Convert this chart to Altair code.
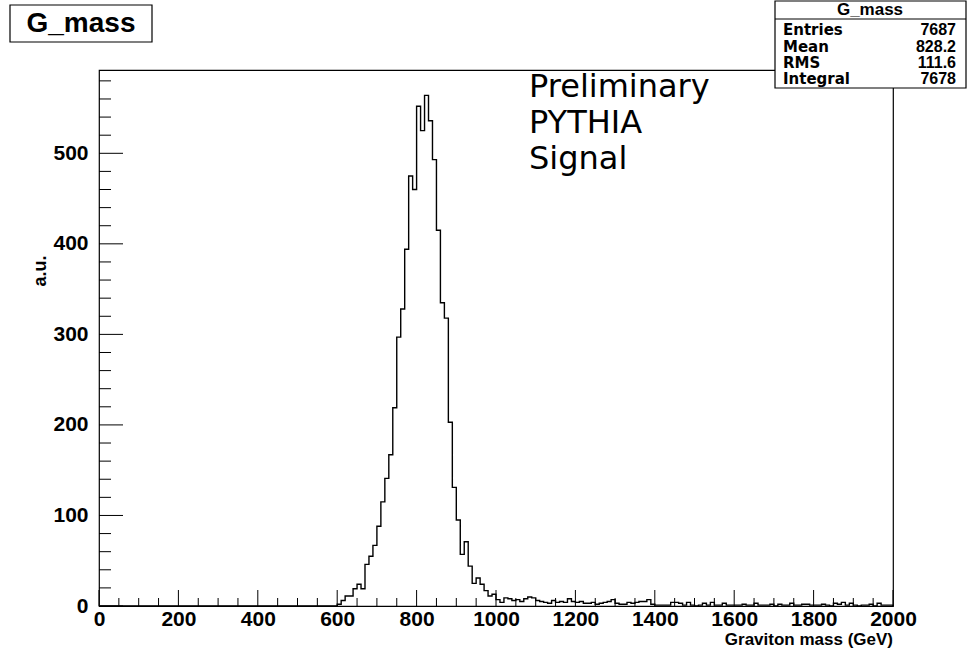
import altair as alt
import pandas as pd
import numpy as np

# ---------------- data ----------------
bin_width = 10
# bins 600..990 (peak region)
peak_start = 600
peak_counts = [2, 6, 11, 11, 19, 24, 19, 46, 55, 67,
               88, 115, 141, 167, 219, 297, 328, 394, 475, 460,
               552, 525, 564, 536, 493, 415, 335, 318, 203, 131,
               95, 57, 71, 44, 25, 31, 24, 17, 11, 13]
# bins 1000..1990 (tail)
tail_counts = [7, 4, 9, 8, 6, 7, 5, 8, 10, 9,
               6, 5, 4, 3, 6, 4, 5, 4, 8, 5,
               4, 5, 3, 3, 4, 2, 3, 4, 5, 7,
               3, 2, 2, 4, 3, 4, 5, 5, 7, 2,
               1, 1, 1, 1, 4, 4, 3, 1, 4, 1,
               0, 1, 3, 1, 4, 1, 1, 3, 1, 1,
               1, 1, 2, 1, 1, 3, 1, 1, 1, 2,
               0, 2, 1, 1, 3, 1, 1, 2, 2, 1,
               1, 1, 2, 1, 0, 3, 2, 4, 1, 3,
               1, 0, 1, 1, 2, 0, 3, 1, 1, 1]

x_ticks_major = [0, 200, 400, 600, 800, 1000, 1200, 1400, 1600, 1800, 2000]
y_ticks_major = [0, 100, 200, 300, 400, 500]

stat_names = ["Entries", "Mean", "RMS", "Integral"]
stat_values = ["7687", "828.2", "111.6", "7678"]
label_lines = ["Preliminary", "PYTHIA", "Signal"]

# ---------------- build tables ----------------
edges = list(range(0, 2000, bin_width))
counts = [0] * (peak_start // bin_width) + peak_counts + tail_counts
counts = counts[:len(edges)]
hist = pd.DataFrame({"x": edges + [2000], "y": counts + [0]})

x_minor = [v for v in range(0, 2001, 50) if v not in x_ticks_major]
y_minor = [v for v in range(0, 581, 20) if v not in y_ticks_major]

W, H = 794, 536
XMAX, YMAX = 2000, 592
FONT = "Liberation Sans"
WIDE = "DejaVu Sans"

xs = alt.Scale(domain=[0, XMAX], nice=False, zero=False)
ys = alt.Scale(domain=[0, YMAX], nice=False)

line = alt.Chart(hist).mark_line(
    interpolate="step-after", color="black", strokeWidth=1.4
).encode(
    x=alt.X("x:Q", scale=xs,
            axis=alt.Axis(values=x_ticks_major, ticks=False, domain=False, grid=False,
                          title=None, labelFont=FONT, labelFontWeight="bold",
                          labelFontSize=21, labelPadding=2, labelColor="black",
                          format="d", labelOverlap=False, labelFlush=False)),
    y=alt.Y("y:Q", scale=ys,
            axis=alt.Axis(values=y_ticks_major, ticks=False, domain=False, grid=False,
                          title=None, labelFont=FONT, labelFontWeight="bold",
                          labelFontSize=21, labelPadding=11, labelColor="black",
                          format="d", labelOverlap=False)),
)

# inward ticks (ROOT style)
xt_major = alt.Chart(pd.DataFrame({"v": x_ticks_major})).mark_rule(color="black", strokeWidth=1).encode(
    x=alt.X("v:Q", scale=xs), y=alt.value(H), y2=alt.value(H - 16))
xt_minor = alt.Chart(pd.DataFrame({"v": x_minor})).mark_rule(color="black", strokeWidth=1).encode(
    x=alt.X("v:Q", scale=xs), y=alt.value(H), y2=alt.value(H - 8))
yt_major = alt.Chart(pd.DataFrame({"v": y_ticks_major})).mark_rule(color="black", strokeWidth=1).encode(
    y=alt.Y("v:Q", scale=ys), x=alt.value(0), x2=alt.value(24))
yt_minor = alt.Chart(pd.DataFrame({"v": y_minor})).mark_rule(color="black", strokeWidth=1).encode(
    y=alt.Y("v:Q", scale=ys), x=alt.value(0), x2=alt.value(12))

# annotation text
ann = alt.Chart(pd.DataFrame({"t": label_lines, "py": [27, 63, 99]})).mark_text(
    align="left", baseline="alphabetic", font=WIDE, fontSize=32, color="black"
).encode(x=alt.value(430), y=alt.Y("py:Q", scale=None), text="t:N")

# axis titles
xtitle = alt.Chart(pd.DataFrame({"t": ["Graviton mass (GeV)"]})).mark_text(
    align="right", baseline="alphabetic", font=FONT, fontSize=17, fontWeight="bold", color="black"
).encode(x=alt.value(W), y=alt.value(575), text="t:N")
ytitle = alt.Chart(pd.DataFrame({"t": ["a.u."]})).mark_text(
    align="center", baseline="middle", font=FONT, fontSize=18, fontWeight="bold",
    color="black", angle=270
).encode(x=alt.value(-58), y=alt.value(201), text="t:N")

# title box
tbox = alt.Chart(pd.DataFrame({"t": ["G_mass"]})).mark_rect(
    fill="white", stroke="black", strokeWidth=1.2
).encode(x=alt.value(-89), x2=alt.value(53), y=alt.value(-65), y2=alt.value(-28))
ttext = alt.Chart(pd.DataFrame({"t": ["G_mass"]})).mark_text(
    align="center", baseline="middle", font=FONT, fontSize=28, fontWeight="bold", color="black"
).encode(x=alt.value(-18), y=alt.value(-46), text="t:N")

# stats box
sbox = alt.Chart(pd.DataFrame({"t": ["G_mass"]})).mark_rect(
    fill="white", stroke="black", strokeWidth=1.2
).encode(x=alt.value(676), x2=alt.value(867), y=alt.value(-69), y2=alt.value(18))
sline = alt.Chart(pd.DataFrame({"t": ["G_mass"]})).mark_rule(color="black", strokeWidth=1).encode(
    x=alt.value(676), x2=alt.value(867), y=alt.value(-51))
shead = alt.Chart(pd.DataFrame({"t": ["G_mass"]})).mark_text(
    align="center", baseline="middle", font=FONT, fontSize=17, fontWeight="bold", color="black"
).encode(x=alt.value(771), y=alt.value(-60), text="t:N")
sdf = pd.DataFrame({"n": stat_names, "v": stat_values,
                    "py": [-40, -23, -7, 9]})
snames = alt.Chart(sdf).mark_text(
    align="left", baseline="middle", font=WIDE, fontSize=15, fontWeight="bold", color="black"
).encode(x=alt.value(684), y=alt.Y("py:Q", scale=None), text="n:N")
svals = alt.Chart(sdf).mark_text(
    align="right", baseline="middle", font=FONT, fontSize=16, fontWeight="bold", color="black"
).encode(x=alt.value(857), y=alt.Y("py:Q", scale=None), text="v:N")

chart = alt.layer(
    line, xt_major, xt_minor, yt_major, yt_minor, ann, xtitle, ytitle,
    tbox, ttext, sbox, sline, shead, snames, svals
).properties(
    width=W, height=H,
    padding={"left": 99, "top": 70, "right": 75, "bottom": 57},
    autosize=alt.AutoSizeParams(type="none"),
    background="white",
).configure_view(
    stroke="black", strokeWidth=1.2
)

chart.save("out.html", embed_options={"renderer": "svg", "actions": False})
